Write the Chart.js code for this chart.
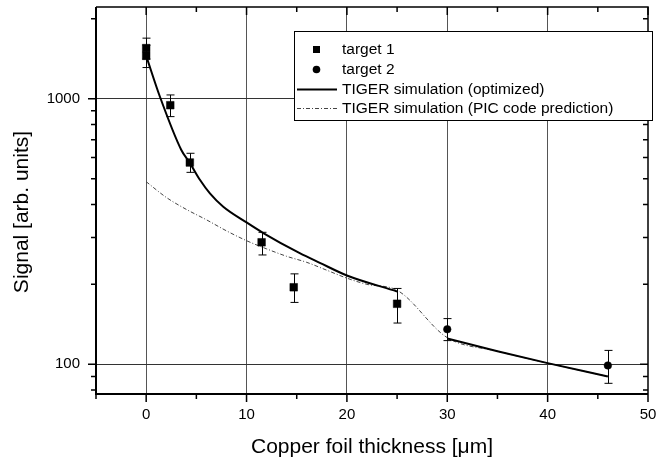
<!DOCTYPE html>
<html><head><meta charset="utf-8">
<script src="https://cdn.jsdelivr.net/npm/chart.js@4"></script>
<style>html,body{margin:0;padding:0;background:#fff;} #wrap{width:670px;height:461px;position:relative;}</style>
</head><body><div id="wrap"><canvas id="c"></canvas></div>
<script>
// ---- data ----
const target1X  = [0, 0, 2.4, 4.35, 11.5, 14.7, 25];
const target1Y  = [1550, 1450, 945, 575, 288, 195, 169];
const target1Hi = [1690, 1590, 1033, 623, 314, 219, 193];
const target1Lo = [1410, 1310, 856, 528, 258, 171, 143];
const target2X  = [30, 46];
const target2Y  = [135.5, 99];
const target2Hi = [148.6, 112.8];
const target2Lo = [122.8, 84.8];
const optX = [0, 1.37, 3.5, 4.36, 5.37, 6.35, 7.68, 10, 11.67, 15.3, 17.3, 20, 25, 27.5, 30, 35, 40, 46];
const optY = [1450, 1017, 641, 572, 494, 440, 392, 342, 312, 262, 241, 216, 188, null, 125, 112, 101, 90];
const picX = [0, 2, 4, 6, 8, 10, 12, 14, 16, 18, 20, 22, 25, 30, 35, 40, 46];
const picY = [487, 425, 383, 350, 318, 292, 272, 255, 242, 226, 211, 200, 190, 126, 112, 101, 90];
const xTicks = [0, 10, 20, 30, 40, 50];
const xMinor = [-5, 5, 15, 25, 35, 45];
const yTicks = [100, 1000];
const yMinor = [80, 90, 200, 300, 400, 500, 600, 700, 800, 900, 2000];
const seriesNames = ['target 1', 'target 2', 'TIGER simulation (optimized)', 'TIGER simulation (PIC code prediction)'];
const xTitle = 'Copper foil thickness [\u03bcm]';
const yTitle = 'Signal [arb. units]';

const FAM = '"Liberation Sans", Arial, Helvetica, sans-serif';
const pts = (xs, ys) => xs.map((x, i) => ({x: x, y: ys[i]}));

const decor = {
  id: 'decor',
  afterDatasetsDraw(chart) {
    const ctx = chart.ctx, xs = chart.scales.x, ys = chart.scales.y;
    ctx.save();
    ctx.strokeStyle = '#000'; ctx.lineWidth = 1;
    const bars = (X, H, L) => X.forEach((x, i) => {
      const px = Math.round(xs.getPixelForValue(x)) + 0.5;
      const ph = ys.getPixelForValue(H[i]), pl = ys.getPixelForValue(L[i]);
      ctx.beginPath();
      ctx.moveTo(px, ph); ctx.lineTo(px, pl);
      ctx.moveTo(px - 4, ph); ctx.lineTo(px + 4, ph);
      ctx.moveTo(px - 4, pl); ctx.lineTo(px + 4, pl);
      ctx.stroke();
    });
    bars(target1X, target1Hi, target1Lo);
    bars(target2X, target2Hi, target2Lo);
    ctx.restore();
  },
  afterDraw(chart) {
    const ctx = chart.ctx, a = chart.chartArea, xs = chart.scales.x, ys = chart.scales.y;
    ctx.save();
    // frame
    ctx.strokeStyle = '#000';
    ctx.lineWidth = 1.5;
    ctx.beginPath();
    ctx.moveTo(a.left, a.top); ctx.lineTo(a.right, a.top); ctx.lineTo(a.right, a.bottom);
    ctx.stroke();
    ctx.lineWidth = 2;
    ctx.beginPath();
    ctx.moveTo(a.left, a.top); ctx.lineTo(a.left, a.bottom); ctx.lineTo(a.right, a.bottom);
    ctx.stroke();
    // tick marks
    ctx.lineWidth = 1.5;
    ctx.beginPath();
    const xt = (v, len) => {
      const p = xs.getPixelForValue(v);
      ctx.moveTo(p, a.bottom); ctx.lineTo(p, a.bottom + len);
      ctx.moveTo(p, a.top); ctx.lineTo(p, a.top + len);
    };
    xTicks.forEach(v => xt(v, 8));
    xMinor.forEach(v => xt(v, 5));
    const yt = (v, len) => {
      const p = ys.getPixelForValue(v);
      ctx.moveTo(a.left, p); ctx.lineTo(a.left - len, p);
      ctx.moveTo(a.right, p); ctx.lineTo(a.right - len, p);
    };
    yTicks.forEach(v => yt(v, 8));
    yMinor.forEach(v => yt(v, 5));
    ctx.stroke();
    // y title
    ctx.fillStyle = '#000';
    ctx.font = '21px ' + FAM;
    ctx.textAlign = 'center'; ctx.textBaseline = 'middle';
    ctx.translate(22, 212);
    ctx.rotate(-Math.PI / 2);
    ctx.fillText(yTitle, 0, 0);
    ctx.setTransform(1, 0, 0, 1, 0, 0);
    // legend
    const L = {x: 294, y: 31, w: 358, h: 89};
    ctx.fillStyle = '#fff';
    ctx.fillRect(L.x, L.y, L.w, L.h);
    ctx.strokeStyle = '#000'; ctx.lineWidth = 1;
    ctx.strokeRect(L.x + 0.5, L.y + 0.5, L.w, L.h);
    const rows = [49.5, 69.5, 89.5, 108.5];
    ctx.fillStyle = '#000';
    ctx.fillRect(313, rows[0] - 3.5, 7, 7);
    ctx.beginPath(); ctx.arc(316.5, rows[1], 3.8, 0, Math.PI * 2); ctx.fill();
    ctx.lineWidth = 2;
    ctx.beginPath(); ctx.moveTo(297, rows[2]); ctx.lineTo(337, rows[2]); ctx.stroke();
    ctx.lineWidth = 1; ctx.strokeStyle = '#444';
    ctx.setLineDash([4, 2, 1, 2]);
    ctx.beginPath(); ctx.moveTo(297, rows[3]); ctx.lineTo(337, rows[3]); ctx.stroke();
    ctx.setLineDash([]);
    ctx.font = '15.5px ' + FAM;
    ctx.textAlign = 'left'; ctx.textBaseline = 'middle';
    seriesNames.forEach((n, i) => ctx.fillText(n, 342, rows[i] + 0.5));
    ctx.restore();
  }
};

new Chart(document.getElementById('c'), {
  type: 'scatter',
  data: {
    datasets: [
      {label: seriesNames[0], data: pts(target1X, target1Y), showLine: false, pointStyle: 'rect',
       pointRadius: 5.4, pointBorderWidth: 0.5, backgroundColor: '#000', borderColor: '#000', order: 0},
      {label: seriesNames[1], data: pts(target2X, target2Y), showLine: false, pointStyle: 'circle',
       pointRadius: 3.8, pointBorderWidth: 0.5, backgroundColor: '#000', borderColor: '#000', order: 0},
      {label: seriesNames[2], data: pts(optX, optY), showLine: true, spanGaps: false, pointRadius: 0,
       borderColor: '#000', borderWidth: 2, cubicInterpolationMode: 'monotone', order: 1},
      {label: seriesNames[3], data: pts(picX, picY), showLine: true, pointRadius: 0,
       borderColor: '#444', borderWidth: 1, borderDash: [4, 2, 1, 2], cubicInterpolationMode: 'monotone', order: 2}
    ]
  },
  options: {
    responsive: true, maintainAspectRatio: false, animation: false,
    layout: {padding: {top: 7, right: 22, left: 0, bottom: 0}},
    plugins: {legend: {display: false}, tooltip: {enabled: false}},
    scales: {
      x: {
        type: 'linear', min: -5, max: 50, position: 'bottom',
        afterBuildTicks: s => { s.ticks = xTicks.map(v => ({value: v})); },
        afterFit: s => { s.height = 67; s.paddingLeft = 0; s.paddingRight = 0; s.paddingTop = 0; s.paddingBottom = 0; },
        grid: {drawTicks: false, lineWidth: 1,
               color: c => (c.tick && c.tick.value === 50) ? 'rgba(0,0,0,0)' : '#555'},
        border: {display: false},
        ticks: {padding: 12, color: '#000', font: {size: 15, family: FAM}, callback: v => String(v)},
        title: {display: true, text: xTitle, color: '#000', font: {size: 21, family: FAM}, padding: {top: 0, bottom: 1}}
      },
      y: {
        type: 'logarithmic', min: 77.3, max: 2214, position: 'left',
        afterBuildTicks: s => { s.ticks = yTicks.map(v => ({value: v})); },
        afterFit: s => { s.width = 96; s.paddingTop = 0; s.paddingBottom = 0; s.paddingLeft = 0; s.paddingRight = 0; },
        grid: {drawTicks: false, lineWidth: 1, color: '#333'},
        border: {display: false},
        ticks: {padding: 16, color: '#000', font: {size: 15, family: FAM}, callback: v => String(v)}
      }
    }
  },
  plugins: [decor]
});
</script></body></html>
